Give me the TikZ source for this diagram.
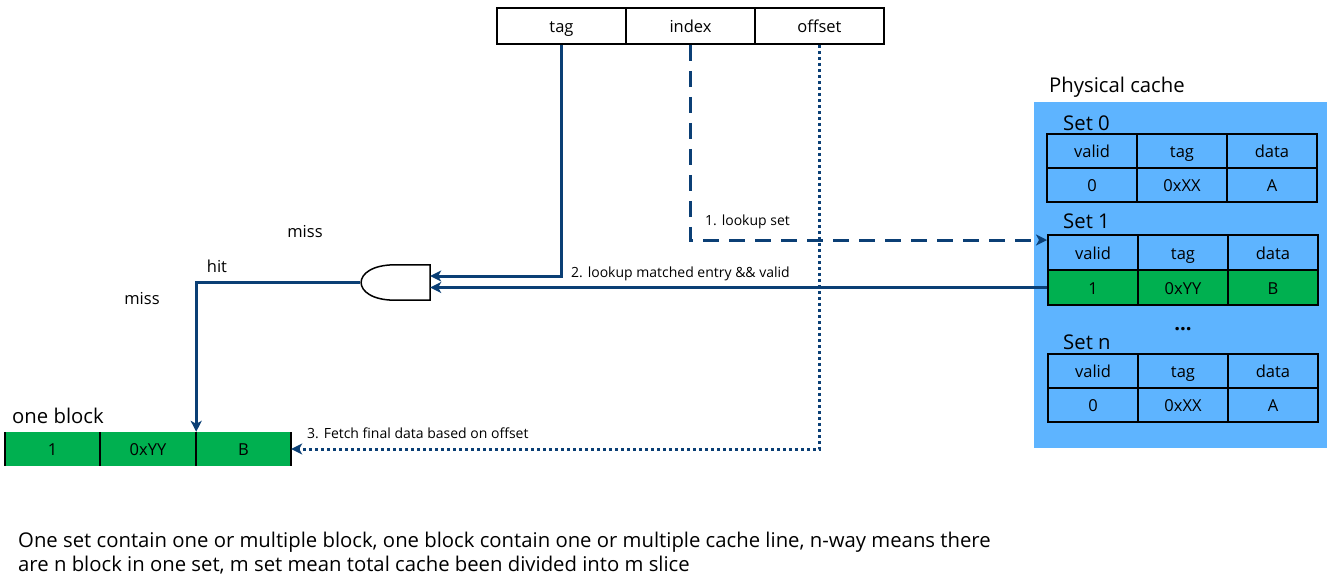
\documentclass[tikz,border=0pt]{standalone}
\usepackage{fontspec}
\setmainfont{Open Sans}
\usetikzlibrary{arrows.meta,calc}
\definecolor{navy}{HTML}{0B3F75}
\definecolor{cblue}{HTML}{5EB4FF}
\definecolor{cgreen}{HTML}{00B050}
\begin{document}
\begin{tikzpicture}[x=1pt,y=-1pt,
  lbl/.style={font=\fontsize{16.5}{19}\selectfont, inner sep=0},
  small/.style={font=\fontsize{14}{16}\selectfont, inner sep=0},
  big/.style={font=\fontsize{20.3}{24}\selectfont, inner sep=0},
  cellfont/.style={font=\fontsize{16.5}{19}\selectfont, text height=15pt, text depth=2pt},
  topcell/.style={draw=black, line width=1.5pt, minimum width=129pt, minimum height=36pt, inner sep=0, cellfont},
  ccell/.style={draw=black, line width=2pt, minimum width=90pt, minimum height=34pt, inner sep=0, cellfont},
  bcell/.style={fill=cgreen, minimum height=34pt, inner sep=0, cellfont},
  conn/.style={draw=navy, line width=3pt},
  arrowend/.style={-{Stealth[length=11pt,width=11pt,inset=3pt]}},
]
\useasboundingbox (0,0) rectangle (1337,579);
% address fields
\node[topcell] (ftag) at (561.5,26) {tag};
\node[topcell] (findex) at (690.5,26) {index};
\node[topcell] (foffset) at (819.5,26) {offset};
% physical cache
\node[big, anchor=base west] (pc) at (1049,92) {Physical cache};
\fill[cblue] (1034,102) rectangle (1327,448);
\node[big, anchor=base west] (s0) at (1063,130) {Set 0};
\node[ccell] (s0v) at (1092,151) {valid};
\node[ccell] (s0t) at (1182,151) {tag};
\node[ccell] (s0d) at (1272,151) {data};
\node[ccell] (s0a) at (1092,185) {0};
\node[ccell] (s0b) at (1182,185) {0xXX};
\node[ccell] (s0c) at (1272,185) {A};
\node[big, anchor=base west] (s1) at (1063,228) {Set 1};
\node[ccell, minimum height=35pt] (s1v) at (1093,252.5) {valid};
\node[ccell, minimum height=35pt] (s1t) at (1183,252.5) {tag};
\node[ccell, minimum height=35pt] (s1d) at (1273,252.5) {data};
\node[ccell, minimum height=35pt, fill=cgreen] (s1a) at (1093,287.5) {1};
\node[ccell, minimum height=35pt, fill=cgreen] (s1b) at (1183,287.5) {0xYY};
\node[ccell, minimum height=35pt, fill=cgreen] (s1c) at (1273,287.5) {B};
\node[big] (dots) at (1183,329) {\textbf{...}};
\node[big, anchor=base west] (sn) at (1063,349) {Set n};
\node[ccell] (snv) at (1093,371) {valid};
\node[ccell] (snt) at (1183,371) {tag};
\node[ccell] (snd) at (1273,371) {data};
\node[ccell] (sna) at (1093,405) {0};
\node[ccell] (snb) at (1183,405) {0xXX};
\node[ccell] (snc) at (1273,405) {A};
% block
\node[big, anchor=base west] (ob) at (12,423) {one block};
\node[bcell, minimum width=95pt] (b1) at (52.5,449) {1};
\node[bcell, minimum width=96pt] (b2) at (148,449) {0xYY};
\node[bcell, minimum width=95pt] (b3) at (243.5,449) {B};
\foreach \x in {5,100,196,291} \draw[line width=2pt] (\x,432) -- (\x,466);
% AND gate
\node[minimum width=70pt, minimum height=35pt, inner sep=0] (gate) at (395,282.5) {};
\draw[line width=1.5pt, fill=white] (gate.north east) -- (gate.north)
  .. controls ($(gate.north west)+(-10,0)$) and ($(gate.south west)+(-10,0)$) .. (gate.south)
  -- (gate.south east) -- cycle;
% connectors
\draw[conn, arrowend] (ftag.south) -- (ftag.south |- 0,276) -- (gate.east |- 0,276);
\draw[conn, arrowend] (s1a.west) -- (gate.east |- s1a.west);
\draw[conn, arrowend, dash pattern=on 16pt off 10pt] (findex.south) -- (findex.south |- 0,240) -- (s1v.west |- 0,240);
\draw[conn, arrowend, dash pattern=on 3pt off 3pt] (foffset.south) -- (foffset.south |- b3.east) -- (b3.east);
\draw[conn, arrowend] (gate.west) -- (b2.east |- gate.west) -- (b2.north east);
% labels
\node[small, anchor=west] (l1) at (705,222) {1. lookup set};
\node[small, anchor=west] (l2) at (571,274) {2. lookup matched entry \&\& valid};
\node[small, anchor=west] (l3) at (307,433) {3. Fetch final data based on offset};
\node[lbl] (miss1) at (305,232) {miss};
\node[lbl] (hit) at (217,266) {hit};
\node[lbl] (miss2) at (142,299) {miss};
\node[big, anchor=base west] (note) at (18,547) {One set contain one or multiple block, one block contain one or multiple cache line, n-way means there};
\node[big, anchor=base west] (note2) at (18,571) {are n block in one set, m set mean total cache been divided into m slice};
\end{tikzpicture}
\end{document}
